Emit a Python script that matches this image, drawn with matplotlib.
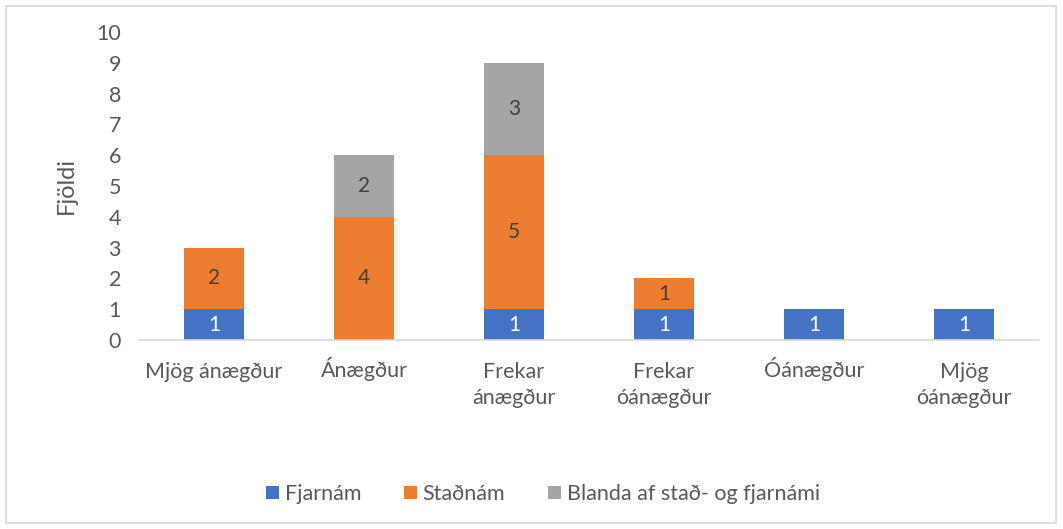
import numpy as np
import matplotlib.pyplot as plt
from matplotlib.patches import Rectangle
from matplotlib.transforms import ScaledTranslation

plt.rcParams['font.family'] = ['Lato', 'DejaVu Sans']

categories = ["Mjög ánægður", "Ánægður", "Frekar\nánægður", "Frekar\nóánægður", "Óánægður", "Mjög\nóánægður"]
fjarnam = [1, 0, 1, 1, 1, 1]
stadnam = [2, 4, 5, 1, 0, 0]
blanda = [0, 2, 3, 0, 0, 0]
series_names = ["Fjarnám", "Staðnám", "Blanda af stað- og fjarnámi"]
colors = ["#4472C4", "#ED7D31", "#A5A5A5"]
label_colors = ["white", "#404040", "#404040"]

fig = plt.figure(figsize=(10.63, 5.29), dpi=100)
ax = fig.add_axes([139 / 1063, 1 - 340 / 529, 900 / 1063, 308 / 529])

x = np.arange(len(categories))
bottom = np.zeros(len(categories))
for vals, name, col, lc in zip([fjarnam, stadnam, blanda], series_names, colors, label_colors):
    vals = np.array(vals)
    ax.bar(x, vals, 0.4, bottom=bottom, color=col, label=name)
    for xi, v, b in zip(x, vals, bottom):
        if v > 0:
            ax.text(xi, b + v / 2, str(v), ha='center', va='center', color=lc, fontsize=15)
    bottom += vals

ax.set_xlim(-0.5, len(categories) - 0.5)
ax.set_ylim(0, 10)
ax.set_yticks(range(0, 11))
ax.set_xticks(x)
ax.set_xticklabels(categories, linespacing=1.35)
ax.tick_params(axis='both', length=0, labelsize=15.5, colors='#595959')
ax.tick_params(axis='x', pad=16)
ax.tick_params(axis='y', pad=13)
# accented capitals push the label down, nudge those back up
for lab in ax.get_xticklabels():
    if lab.get_text()[0] in "ÁÓ":
        lab.set_transform(lab.get_transform() + ScaledTranslation(0, 4 / 72, fig.dpi_scale_trans))
for s in ['top', 'right', 'left']:
    ax.spines[s].set_visible(False)
ax.spines['bottom'].set_color('#D9D9D9')
ax.spines['bottom'].set_linewidth(1.2)
ax.set_ylabel("Fjöldi", fontsize=17, color='#595959', labelpad=14)

leg = fig.legend(loc='center', bbox_to_anchor=(543 / 1063, 1 - 494 / 529), ncol=3, frameon=False,
                 fontsize=15.5, handlelength=0.6, handleheight=0.6, handletextpad=0.25, columnspacing=2.0)
for t in leg.get_texts():
    t.set_color('#595959')

fig.patches.append(Rectangle((6 / 1063, 6 / 529), 1050 / 1063, 517 / 529, transform=fig.transFigure,
                             fill=False, edgecolor='#D9D9D9', linewidth=1.2))

fig.savefig("out.png", dpi=100)
